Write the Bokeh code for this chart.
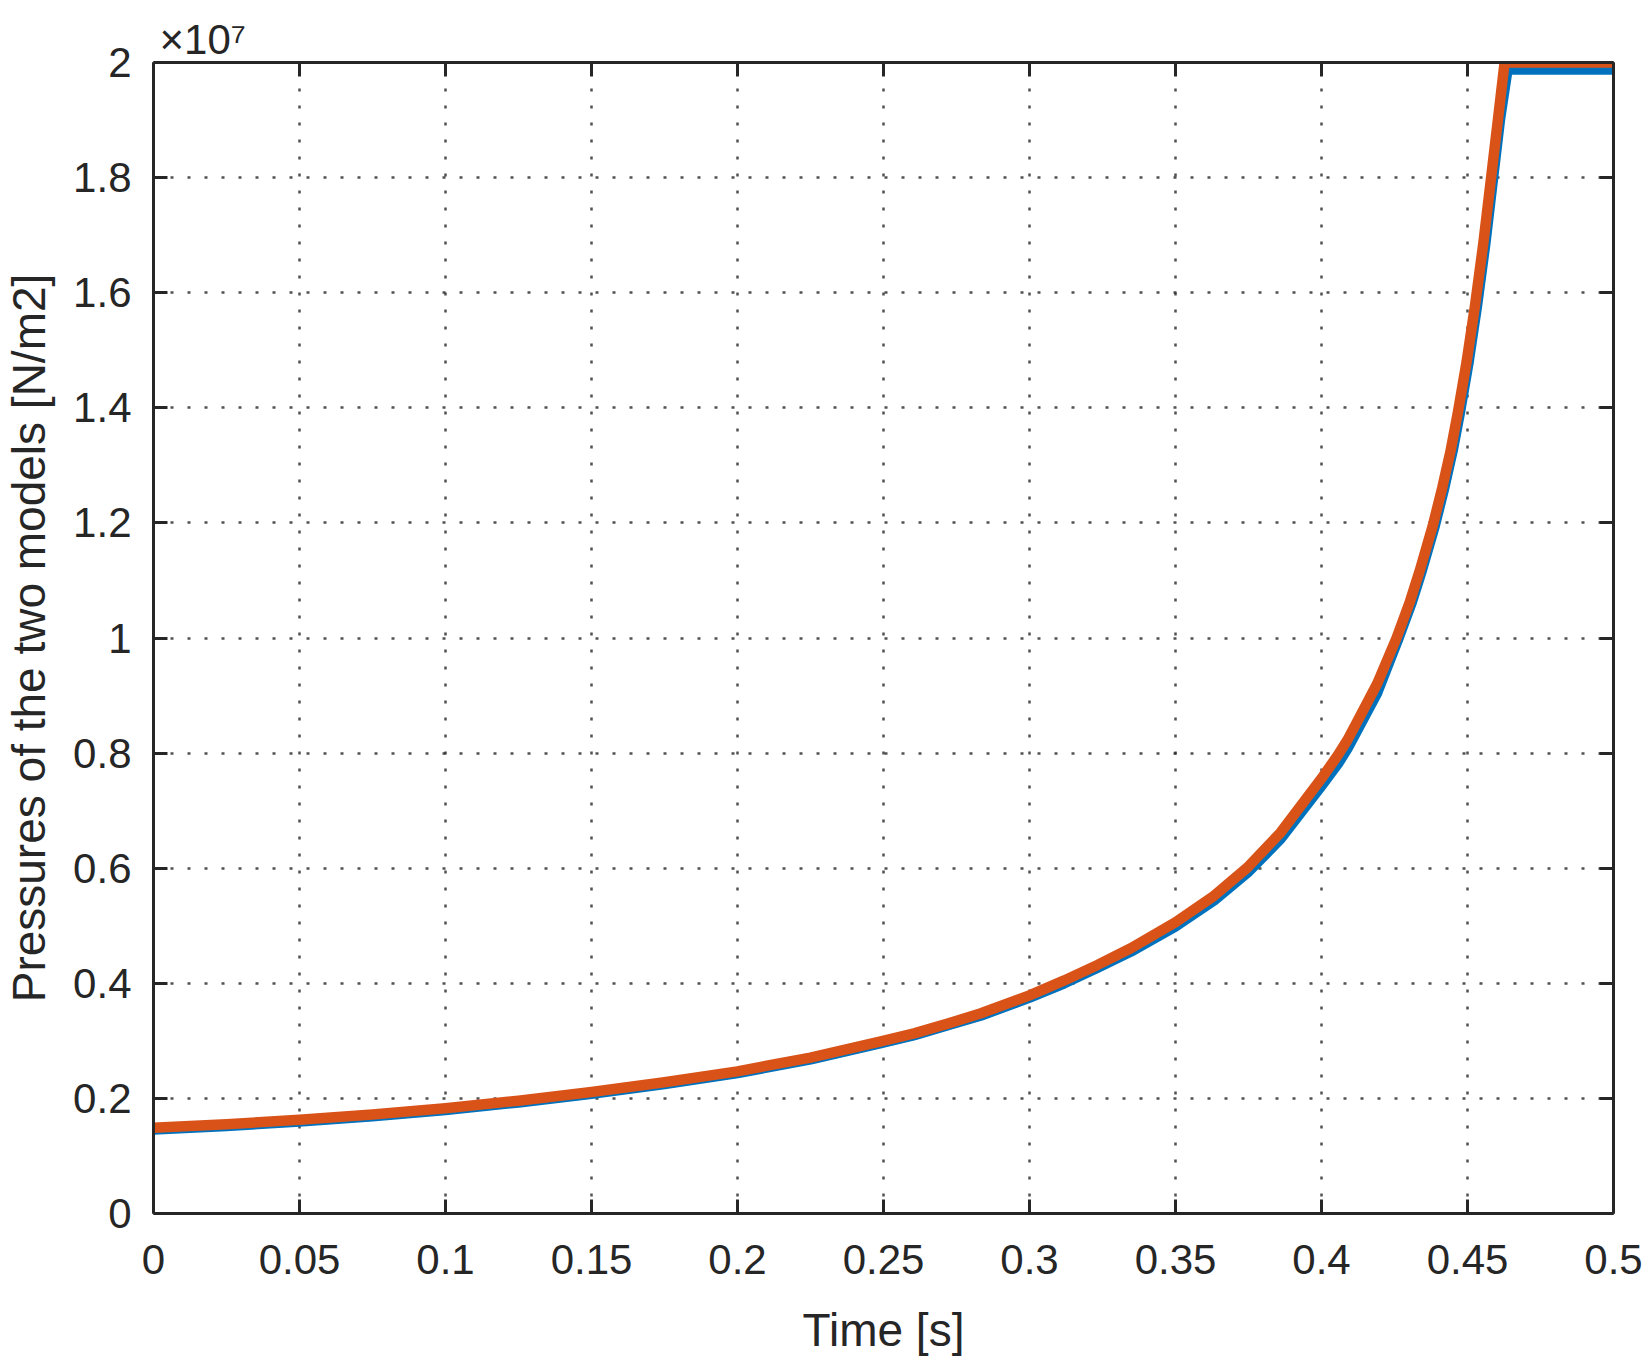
from bokeh.plotting import figure
from bokeh.models import LinearAxis, FixedTicker, Range1d, Title
from bokeh.embed import file_html
from bokeh.resources import INLINE

# ---- data (pressure in units of 1e7 N/m2) ----
t_model_1 = [0.000, 0.025, 0.050, 0.075, 0.100, 0.125, 0.150, 0.175, 0.200, 0.225,
             0.2491, 0.2605, 0.2720, 0.2834, 0.300, 0.3119, 0.3233, 0.3347, 0.350, 0.3632,
             0.3746, 0.3860, 0.400, 0.4057, 0.4089, 0.4128, 0.4191, 0.4264, 0.4309, 0.4344,
             0.4388, 0.4421, 0.4449, 0.4474, 0.4504, 0.4532, 0.4561, 0.4585, 0.4611, 0.4637,
             0.500]
p_model_1 = [0.146, 0.152, 0.160, 0.169, 0.180, 0.193, 0.208, 0.225, 0.244, 0.268,
             0.296, 0.310, 0.327, 0.344, 0.375, 0.400, 0.427, 0.455, 0.499, 0.544,
             0.592, 0.651, 0.743, 0.782, 0.808, 0.845, 0.905, 1.000, 1.062, 1.118,
             1.195, 1.262, 1.325, 1.392, 1.480, 1.575, 1.685, 1.788, 1.900, 1.988,
             1.988]

t_model_2 = [0.000, 0.025, 0.050, 0.075, 0.100, 0.125, 0.150, 0.175, 0.200, 0.225,
             0.2491, 0.2605, 0.2720, 0.2834, 0.300, 0.3119, 0.3233, 0.3347, 0.350, 0.3632,
             0.3746, 0.3860, 0.400, 0.4057, 0.4089, 0.4128, 0.4191, 0.4257, 0.4302, 0.4337,
             0.4381, 0.4414, 0.4442, 0.4467, 0.4497, 0.4525, 0.4554, 0.4578, 0.4604, 0.4627,
             0.500]
p_model_2 = [0.149, 0.155, 0.163, 0.172, 0.183, 0.196, 0.211, 0.228, 0.247, 0.271,
             0.299, 0.313, 0.330, 0.348, 0.379, 0.405, 0.432, 0.461, 0.506, 0.552,
             0.601, 0.662, 0.756, 0.797, 0.823, 0.860, 0.921, 1.000, 1.062, 1.118,
             1.195, 1.262, 1.325, 1.392, 1.480, 1.575, 1.685, 1.788, 1.900, 2.000,
             2.000]

x_ticks = [0, 0.05, 0.1, 0.15, 0.2, 0.25, 0.3, 0.35, 0.4, 0.45, 0.5]
x_tick_labels = ["0", "0.05", "0.1", "0.15", "0.2", "0.25", "0.3", "0.35", "0.4", "0.45", "0.5"]
y_ticks = [0, 0.2, 0.4, 0.6, 0.8, 1, 1.2, 1.4, 1.6, 1.8, 2]
y_tick_labels = ["0", "0.2", "0.4", "0.6", "0.8", "1", "1.2", "1.4", "1.6", "1.8", "2"]

x_label = "Time [s]"
y_label = "Pressures of the two models [N/m2]"
y_scale_label = "\u00d710\u2077"

BLUE = "#0072BD"
ORANGE = "#D95319"
INK = "#262626"
FONT = "Liberation Sans"

p = figure(width=1643, height=1358,
           x_range=Range1d(0, 0.5), y_range=Range1d(0, 2),
           output_backend="svg", toolbar_location=None,
           min_border_left=152, min_border_right=30,
           min_border_top=62, min_border_bottom=143)
p.background_fill_color = "white"
p.border_fill_color = "white"
p.outline_line_color = None

# extra axes for the box
top_ax = LinearAxis()
right_ax = LinearAxis()
p.add_layout(top_ax, "above")
p.add_layout(right_ax, "right")

xt = FixedTicker(ticks=x_ticks)
yt = FixedTicker(ticks=y_ticks)

for ax in [p.below[0], top_ax]:
    ax.ticker = xt
for ax in [p.left[0], right_ax]:
    ax.ticker = yt

for ax in [p.below[0], top_ax, p.left[0], right_ax]:
    ax.axis_line_color = INK
    ax.axis_line_width = 3
    ax.major_tick_line_color = INK
    ax.major_tick_line_width = 3
    ax.major_tick_in = 14
    ax.major_tick_out = 0
    ax.minor_tick_line_color = None
    ax.major_label_text_font = FONT
    ax.major_label_text_font_size = "42px"
    ax.major_label_text_color = INK
    ax.axis_label_text_font = FONT
    ax.axis_label_text_font_size = "46px"
    ax.axis_label_text_font_style = "normal"
    ax.axis_label_text_color = INK

for ax in [top_ax, right_ax]:
    ax.major_label_text_font_size = "0px"
    ax.major_label_standoff = 0

p.below[0].major_label_overrides = {v: s for v, s in zip(x_ticks, x_tick_labels)}
p.left[0].major_label_overrides = {v: s for v, s in zip(y_ticks, y_tick_labels)}
p.below[0].major_label_standoff = 31
p.left[0].major_label_standoff = 22
p.below[0].axis_label = x_label
p.left[0].axis_label = y_label
p.below[0].axis_label_standoff = 27
p.left[0].axis_label_standoff = 15

for g in [p.xgrid[0], p.ygrid[0]]:
    g.grid_line_color = INK
    g.grid_line_alpha = 0.8
    g.grid_line_width = 2.5
    g.grid_line_dash = "3 14"
p.xgrid[0].ticker = xt
p.ygrid[0].ticker = yt

p.line(t_model_1, p_model_1, line_color=BLUE, line_width=10.5, line_join="round")
p.line(t_model_2, p_model_2, line_color=ORANGE, line_width=10.5, line_join="round")

p.add_layout(Title(text=y_scale_label, align="left", offset=6, standoff=0,
                   text_font=FONT, text_font_size="42px", text_font_style="normal",
                   text_color=INK), "above")

open("out.html", "w").write(file_html(p, INLINE))
